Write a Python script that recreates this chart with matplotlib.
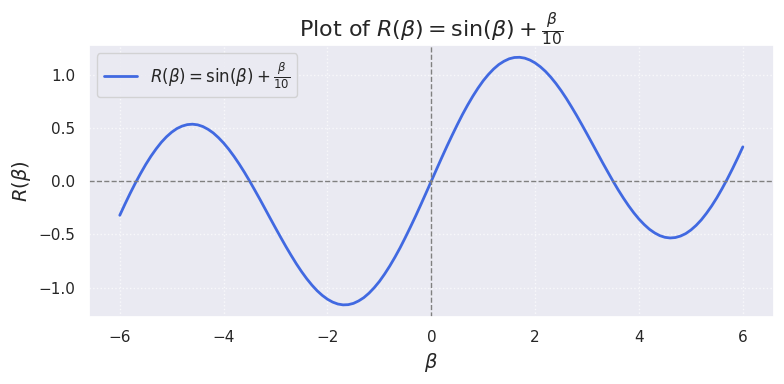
import matplotlib
matplotlib.use("Agg")
import matplotlib.pyplot as plt
import seaborn as sns

# beta sample points and R(beta) values
beta = [-6.0, -5.9, -5.8, -5.7, -5.6, -5.5, -5.4, -5.3, -5.2, -5.1,
        -5.0, -4.9, -4.8, -4.7, -4.6, -4.5, -4.4, -4.3, -4.2, -4.1,
        -4.0, -3.9, -3.8, -3.7, -3.6, -3.5, -3.4, -3.3, -3.2, -3.1,
        -3.0, -2.9, -2.8, -2.7, -2.6, -2.5, -2.4, -2.3, -2.2, -2.1,
        -2.0, -1.9, -1.8, -1.7, -1.6, -1.5, -1.4, -1.3, -1.2, -1.1,
        -1.0, -0.9, -0.8, -0.7, -0.6, -0.5, -0.4, -0.3, -0.2, -0.1,
        0.0, 0.1, 0.2, 0.3, 0.4, 0.5, 0.6, 0.7, 0.8, 0.9,
        1.0, 1.1, 1.2, 1.3, 1.4, 1.5, 1.6, 1.7, 1.8, 1.9,
        2.0, 2.1, 2.2, 2.3, 2.4, 2.5, 2.6, 2.7, 2.8, 2.9,
        3.0, 3.1, 3.2, 3.3, 3.4, 3.5, 3.6, 3.7, 3.8, 3.9,
        4.0, 4.1, 4.2, 4.3, 4.4, 4.5, 4.6, 4.7, 4.8, 4.9,
        5.0, 5.1, 5.2, 5.3, 5.4, 5.5, 5.6, 5.7, 5.8, 5.9, 6.0]
r_vals = [-0.321, -0.216, -0.115, -0.019, 0.071, 0.156, 0.233, 0.302, 0.364, 0.416,
          0.459, 0.493, 0.516, 0.530, 0.534, 0.528, 0.512, 0.486, 0.452, 0.408,
          0.357, 0.298, 0.232, 0.160, 0.083, 0.001, -0.085, -0.172, -0.262, -0.352,
          -0.441, -0.529, -0.615, -0.697, -0.776, -0.849, -0.916, -0.976, -1.029, -1.073,
          -1.109, -1.136, -1.154, -1.162, -1.160, -1.148, -1.125, -1.094, -1.052, -1.001,
          -0.942, -0.873, -0.797, -0.714, -0.625, -0.529, -0.429, -0.326, -0.219, -0.110,
          0.0, 0.110, 0.219, 0.326, 0.429, 0.529, 0.625, 0.714, 0.797, 0.873,
          0.942, 1.001, 1.052, 1.094, 1.125, 1.148, 1.160, 1.162, 1.154, 1.136,
          1.109, 1.073, 1.029, 0.976, 0.916, 0.849, 0.776, 0.697, 0.615, 0.529,
          0.441, 0.352, 0.262, 0.172, 0.085, -0.001, -0.083, -0.160, -0.232, -0.298,
          -0.357, -0.408, -0.452, -0.486, -0.512, -0.528, -0.534, -0.530, -0.516, -0.493,
          -0.459, -0.416, -0.364, -0.302, -0.233, -0.156, -0.071, 0.019, 0.115, 0.216, 0.321]

label = r'$R(\beta) = \sin(\beta) + \frac{\beta}{10}$'

sns.set_theme(style="darkgrid")
fig, ax = plt.subplots(figsize=(8, 4), dpi=100)

ax.plot(beta, r_vals, color='royalblue', linewidth=2, label=label)
ax.axhline(0, color='gray', linestyle='--', linewidth=1)
ax.axvline(0, color='gray', linestyle='--', linewidth=1)

ax.set_title('Plot of ' + label, fontsize=16)
ax.set_xlabel(r'$\beta$', fontsize=14)
ax.set_ylabel(r'$R(\beta)$', fontsize=14)
ax.grid(True, linestyle=':', alpha=0.7)
ax.legend(loc='upper left', fontsize=12)

plt.tight_layout()
plt.savefig('out.png', bbox_inches='tight')
